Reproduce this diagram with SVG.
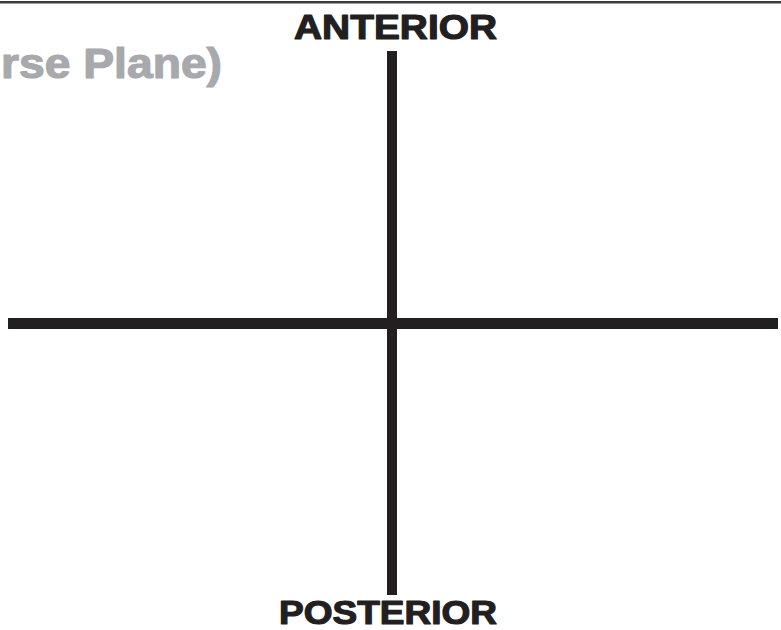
<svg xmlns="http://www.w3.org/2000/svg" width="781" height="630" viewBox="0 0 781 630">
<style>
.lbl{font-family:"Liberation Sans",Arial,sans-serif;font-weight:bold;fill:#231f20;stroke:#231f20;stroke-width:1.2;stroke-linejoin:round}
.ttl{font-family:"Liberation Sans",Arial,sans-serif;font-weight:bold;fill:#a7a9ac;stroke:#a7a9ac;stroke-width:1.2;stroke-linejoin:round}
.axis{stroke:#231f20;fill:none}
</style>
<rect x="0" y="0" width="781" height="630" fill="#ffffff"/>
<rect x="0" y="1" width="781" height="2.5" fill="#3a3a3a"/>
<g id="title"><text class="ttl" x="1" y="78" font-size="42" textLength="221" lengthAdjust="spacingAndGlyphs">rse Plane)</text></g>
<g id="connectors">
<line class="axis" x1="8" y1="323.5" x2="778" y2="323.5" stroke-width="11"/>
<line class="axis" x1="392" y1="51" x2="392" y2="595" stroke-width="10"/>
</g>
<g id="anterior"><text class="lbl" x="294" y="39" font-size="35" textLength="203" lengthAdjust="spacingAndGlyphs">ANTERIOR</text></g>
<g id="posterior"><text class="lbl" x="279" y="624" font-size="34" textLength="218" lengthAdjust="spacingAndGlyphs">POSTERIOR</text></g>
</svg>
